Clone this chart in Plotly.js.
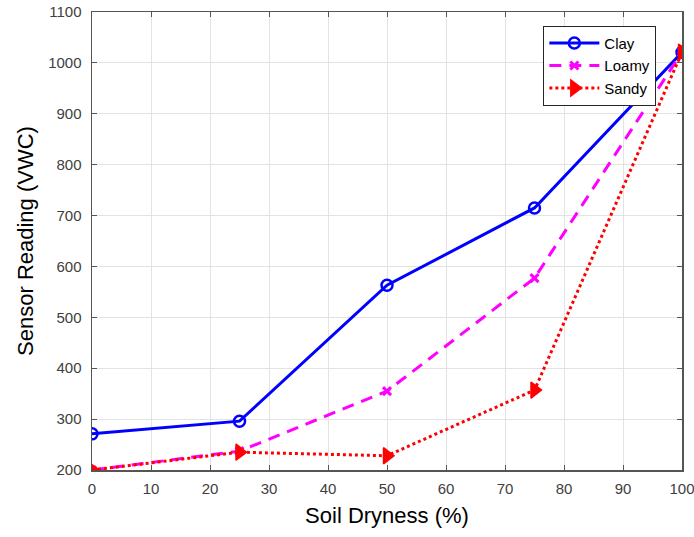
<!DOCTYPE html>
<html>
<head>
<meta charset="utf-8">
<script src="https://cdn.plot.ly/plotly-3.0.1.min.js"></script>
<style>html,body{margin:0;padding:0;background:#fff;}#chart{width:694px;height:537px;}</style>
</head>
<body>
<div id="chart"></div>
<script>
const dryness = [0, 25, 50, 75, 100];
const clay = [271, 296, 563, 715, 1021];
const loamy = [200, 237, 355, 577, 1021];
const sandy = [200, 235, 228, 357, 1021];

const traces = [
  {x: dryness, y: clay, name: 'Clay', mode: 'lines+markers', type: 'scatter',
   line: {color: '#0000ff', width: 3, dash: 'solid'},
   marker: {symbol: 'circle-open', size: 11, color: '#0000ff', line: {width: 2.5, color: '#0000ff'}}},
  {x: dryness, y: loamy, name: 'Loamy', mode: 'lines+markers', type: 'scatter',
   line: {color: '#ff00ff', width: 3, dash: '12px,8px'},
   marker: {symbol: 'x-thin', size: 8, color: '#ff00ff', line: {width: 3, color: '#ff00ff'}}},
  {x: dryness, y: sandy, name: 'Sandy', mode: 'lines+markers', type: 'scatter',
   line: {color: '#ff0000', width: 3, dash: 'dot'},
   marker: {symbol: 'triangle-right', size: 14, color: '#ff0000', line: {width: 1.5, color: '#ff0000'}}}
];

const layout = {
  width: 694, height: 537,
  margin: {l: 92, r: 12, t: 12, b: 67},
  paper_bgcolor: '#ffffff', plot_bgcolor: '#ffffff',
  font: {family: 'Liberation Sans, Arial, sans-serif', color: '#262626'},
  showlegend: true,
  legend: {x: 0.765, y: 0.97, xanchor: 'left', yanchor: 'top', bgcolor: '#ffffff',
           bordercolor: '#262626', borderwidth: 1, font: {size: 15, color: '#000'},
           itemwidth: 50, tracegroupgap: 0},
  xaxis: {
    range: [0, 100], tickvals: [0,10,20,30,40,50,60,70,80,90,100],
    showgrid: true, gridcolor: '#e3e3e3', gridwidth: 1,
    showline: true, linecolor: '#555555', linewidth: 1.5, mirror: 'ticks',
    ticks: 'inside', ticklen: 5, tickcolor: '#555555',
    ticklabelstandoff: 4, ticklabeloverflow: 'allow',
    tickfont: {size: 15, color: '#404040'}, zeroline: false,
    title: {text: 'Soil Dryness (%)', font: {size: 22, color: '#000'}, standoff: 12}
  },
  yaxis: {
    range: [200, 1100], tickvals: [200,300,400,500,600,700,800,900,1000,1100],
    showgrid: true, gridcolor: '#e3e3e3', gridwidth: 1,
    showline: true, linecolor: '#555555', linewidth: 1.5, mirror: 'ticks',
    ticks: 'inside', ticklen: 5, tickcolor: '#555555',
    ticklabelstandoff: 6, ticklabeloverflow: 'allow',
    tickfont: {size: 15, color: '#404040'}, zeroline: false,
    title: {text: 'Sensor Reading (VWC)', font: {size: 22, color: '#000'}, standoff: 8}
  }
};

Plotly.newPlot('chart', traces, layout, {displayModeBar: false, staticPlot: true});
</script>
</body>
</html>
